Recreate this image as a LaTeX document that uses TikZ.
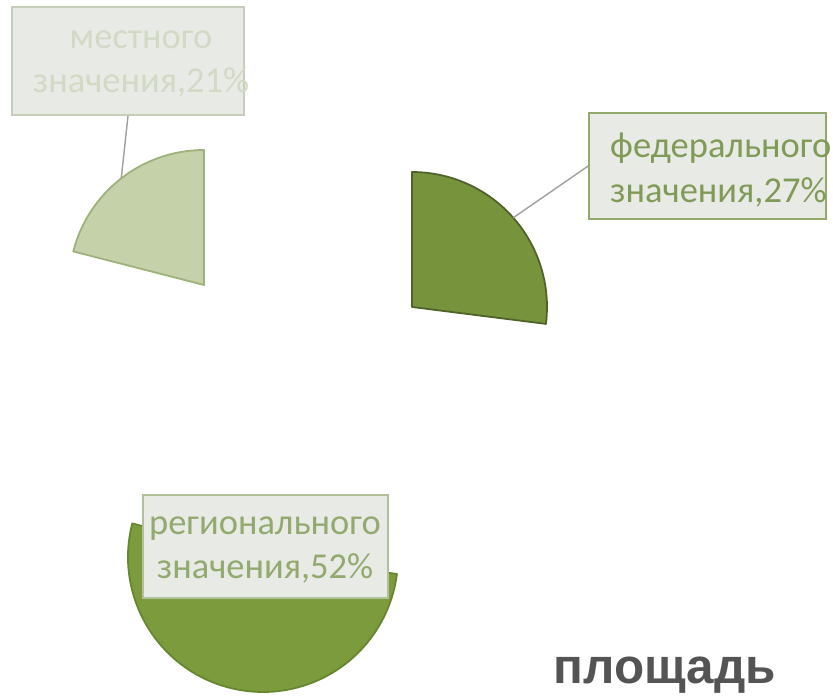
\documentclass[tikz,border=0pt]{standalone}
\usepackage{fontspec}
\setmainfont{Carlito}
\newfontfamily\headfont{Liberation Sans}
\usetikzlibrary{calc}

\definecolor{lightslice}{HTML}{C4D1A9}
\definecolor{lightedge}{HTML}{9DB27A}
\definecolor{darkslice}{HTML}{77933C}
\definecolor{darkedge}{HTML}{4F6228}
\definecolor{midslice}{HTML}{7B9B3D}
\definecolor{midedge}{HTML}{66862F}
\definecolor{boxfill}{HTML}{E8EAE6}
\definecolor{boxedge}{HTML}{93AA6C}
\definecolor{paleedge}{HTML}{C6CDBB}
\definecolor{greentext}{HTML}{809B56}
\definecolor{paletext}{HTML}{D2DAC6}
\definecolor{leadergray}{HTML}{A0A0A0}

\tikzstyle{slice}=[line width=1.5pt,line join=round]
\tikzstyle{labelbox}=[draw=boxedge,fill=boxfill,line width=1.3pt,inner sep=0pt]
\tikzstyle{labeltext}=[inner sep=0pt,text=greentext,font=\fontsize{31}{38}\selectfont]
\tikzstyle{leader}=[draw=leadergray,line width=1.2pt]

\begin{document}
\begin{tikzpicture}[x=0.85pt,y=0.85pt]
    \useasboundingbox (0,0) rectangle (833,695);
    %Pie slices
    \foreach \cx/\cy/\from/\to/\fc/\ec in {204/410/90/165.6/lightslice/lightedge,
                                          412/388/-7.2/90/darkslice/darkedge,
                                          263/138/165.6/352.8/midslice/midedge}
    \draw[slice,fill=\fc,draw=\ec] (\cx,\cy) -- ++(\from:135)
        arc[start angle=\from,end angle=\to,radius=135] -- cycle;
    \coordinate (localtip) at ($(204,410)+(127.8:135)$);
    \coordinate (fedtip) at ($(412,388)+(41.4:135)$);
    %Labels
    \node[labelbox,draw=paleedge,minimum width=197pt,minimum height=92pt] (localbox) at (128,634) {};
    \node[labeltext,text=paletext,align=center] (localtxt) at (141,631) {местного\\значения,21\%};
    \node[labelbox,minimum width=201.5pt,minimum height=90pt] (fedbox) at (707.5,529) {};
    \node[labeltext,align=left,anchor=west] (fedtxt) at (610,525) {федерального\\значения,27\%};
    \node[labelbox,draw=paleedge!60!boxedge,minimum width=208pt,minimum height=87.5pt] (regbox) at (265.5,148.5) {};
    \node[labeltext,text=greentext!85!white,align=center] (regtxt) at (265,145) {регионального\\значения,52\%};
    %Leaders
    \draw[leader] (localbox.south) -- (localtip);
    \draw[leader] (fedbox.west) -- (fedtip);
    %Title
    \node[anchor=base,inner sep=0pt,text=black!67,font=\headfont\bfseries\fontsize{42}{50}\selectfont] (title) at (665,12) {площадь};
\end{tikzpicture}
\end{document}
